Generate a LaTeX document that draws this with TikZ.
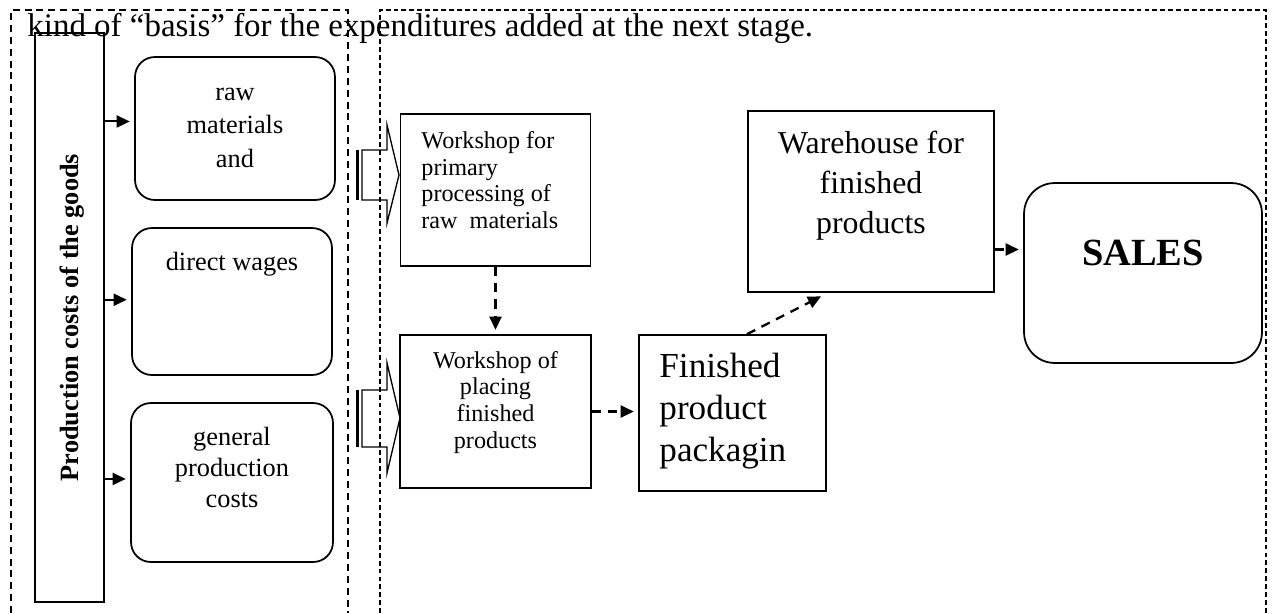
\documentclass[tikz,border=0pt]{standalone}
\usepackage{fontspec}
\setmainfont{Liberation Serif}
\usepackage{tikz}
\usepackage{xcolor}
\usetikzlibrary{arrows.meta,positioning,calc}
\definecolor{ink}{HTML}{000000}
\tikzset{
  costcard/.style={draw=ink,line width=0.8pt,rounded corners=9pt},
  shopcard/.style={draw=ink,line width=0.8pt},
  salescard/.style={draw=ink,line width=0.8pt,rounded corners=14pt},
  costtext/.style={inner sep=0pt,anchor=north,align=center,
                   font=\fontsize{12}{15.25}\selectfont},
  shoptext/.style={inner sep=0pt,anchor=north,align=center,
                   font=\fontsize{11}{12.15}\selectfont},
  solidarr/.style={-{Triangle[length=6pt,width=5.5pt]},line width=0.9pt,
                   draw=ink,shorten >=2pt},
  dasharr/.style={-{Triangle[length=6pt,width=5.5pt]},line width=1.05pt,
                  draw=ink,shorten >=2pt,dash pattern=on 4.2pt off 3.2pt},
  outerframe/.style={draw=ink,line width=0.8pt,dash pattern=on 3.2pt off 2.2pt},
  innerframe/.style={draw=ink,line width=0.6pt,dash pattern=on 2.2pt off 1.4pt},
  blockarr/.style={draw=ink,line width=0.6pt}
}

\begin{document}
\begin{tikzpicture}[x=0.016cm,y=-0.016cm]
    \path[use as bounding box] (0,0) rectangle (1272,613);

    % dashed frames
    \draw[outerframe] (11,613) -- (11,10) -- (348,10) -- (348,613);
    \draw[innerframe] (380,613) -- (380,10) -- (1266,10) -- (1266,613);

    \node[anchor=base west,inner sep=0pt,font=\fontsize{15}{17}\selectfont] (lead) at (27,36)
      {kind of “basis” for the expenditures added at the next stage.};

    % cost column
    \node[shopcard,minimum width=1.104cm,minimum height=9.104cm] (prod) at (69.5,317.5) {};
    \node[rotate=90,inner sep=0pt,font=\fontsize{12}{14}\selectfont\bfseries] (prodtext)
      at ($(prod.center)+(3,0)$) {Production costs of the goods};

    \node[costcard,minimum width=3.2cm,minimum height=2.288cm] (raw) at (235,128.5) {};
    \node[costtext] (rawtext) at (235,76.5) {\strut raw\\materials\\and};
    \node[costcard,minimum width=3.2cm,minimum height=2.352cm] (wages) at (232,301.5) {};
    \node[costtext] (wagestext) at (232,246.5) {\strut direct wages};
    \node[costcard,minimum width=3.232cm,minimum height=2.544cm] (general) at (232,482.5) {};
    \node[costtext,font=\fontsize{12}{14.2}\selectfont] (generaltext) at (232,423)
      {\strut general\\production\\costs};
    \draw[solidarr] (prod.east |- raw.176) -- (raw.176);
    \draw[solidarr] (prod.east |- wages.179) -- (wages.179);
    \draw[solidarr] (prod.east |- general.178) -- (general.178);

    % block arrows into the workshops
    \draw[blockarr] (362,150) -- (387,150) -- (387,125) -- (399,175) -- (387,223)
      -- (387,200) -- (362,200) -- cycle;
    \draw[ink,line width=1.8pt] (357.5,150) -- (357.5,200);
    \draw[blockarr] (362,390) -- (387,390) -- (387,363) -- (400,418) -- (387,473)
      -- (387,447) -- (362,447) -- cycle;
    \draw[ink,line width=1.8pt] (357.5,390) -- (357.5,447);

    % production chain
    \node[shopcard,minimum width=3.04cm,minimum height=2.432cm] (shop1) at (495.5,190) {};
    \node[shoptext,anchor=north west,align=left] (shop1text) at (421,129.3)
      {\strut Workshop for\\primary\\processing of\\raw\ \ materials};
    \node[shopcard,minimum width=3.056cm,minimum height=2.448cm] (shop2) at (495.5,411.5) {};
    \node[shoptext] (shop2text) at (495.5,349)
      {\strut Workshop of\\placing\\finished\\products};
    \node[shopcard,minimum width=2.992cm,minimum height=2.496cm] (pack) at (732.5,413) {};
    \node[inner sep=0pt,anchor=north west,align=left,font=\fontsize{16}{19.3}\selectfont]
      (packtext) at (659,347) {\strut Finished\\product\\packagin};
    \node[shopcard,minimum width=3.936cm,minimum height=2.896cm] (store) at (871,201.5) {};
    \node[inner sep=0pt,anchor=north,align=center,font=\fontsize{14.5}{18.2}\selectfont]
      (storetext) at (871,125) {\strut Warehouse for\\finished\\products};
    \node[salescard,minimum width=3.808cm,minimum height=2.88cm] (sales) at (1143,273) {};
    \node[inner sep=0pt,font=\fontsize{17.5}{20}\selectfont\bfseries] (salestext)
      at (1143,253) {SALES};

    \draw[dasharr] (shop1.south) -- (shop2.north);
    \draw[dasharr] (shop2.east) -- (shop2.east -| pack.west);
    \draw[dasharr] ($(pack.north)+(14.5,0)$) -- ($(store.south)+(-46,1.5)$);
    \draw[dasharr] ($(store.east)+(0,48)$) coordinate (s2s) -- (s2s -| sales.west);
\end{tikzpicture}
\end{document}
